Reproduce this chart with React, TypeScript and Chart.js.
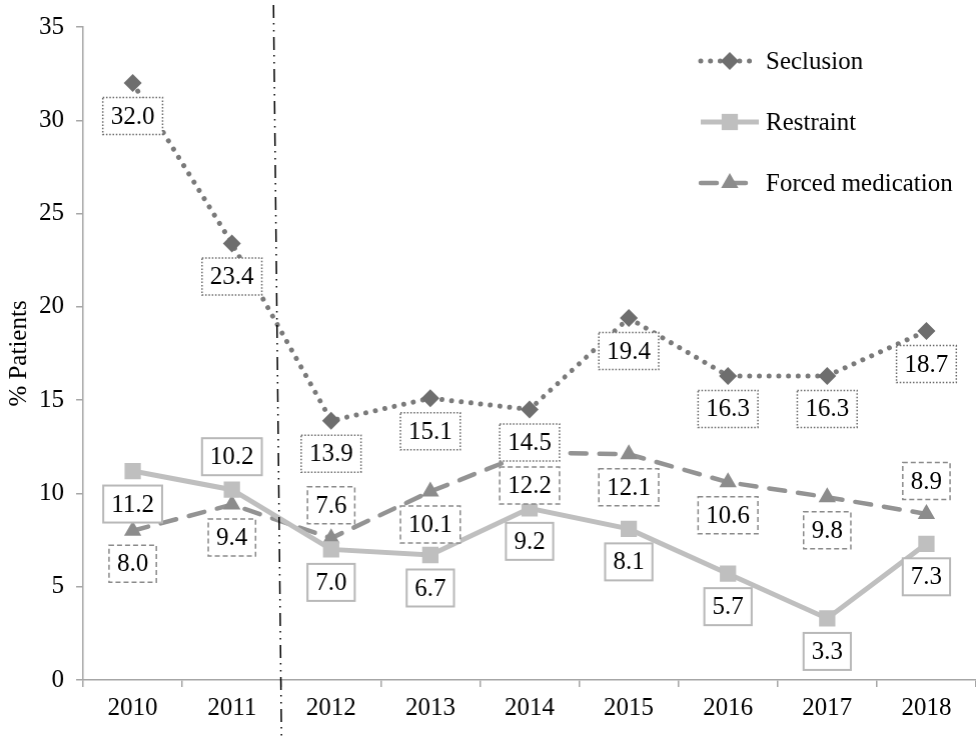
import { useEffect, useRef } from "react"
import { Chart, registerables, Plugin } from "chart.js"
import { drawPoint } from "chart.js/helpers"

Chart.register(...registerables)

const FONT = "'Liberation Serif', 'Times New Roman', serif"

// Data
const years = ["2010", "2011", "2012", "2013", "2014", "2015", "2016", "2017", "2018"]
const seclusion = [32.0, 23.4, 13.9, 15.1, 14.5, 19.4, 16.3, 16.3, 18.7]
const restraint = [11.2, 10.2, 7.0, 6.7, 9.2, 8.1, 5.7, 3.3, 7.3]
const forcedMedication = [8.0, 9.4, 7.6, 10.1, 12.2, 12.1, 10.6, 9.8, 8.9]

// which side of the point each value box sits on (1 = below, -1 = above)
const seclusionLabelSide = [1, 1, 1, 1, 1, 1, 1, 1, 1]
const restraintLabelSide = [1, -1, 1, 1, 1, 1, 1, 1, 1]
const forcedLabelSide = [1, 1, -1, 1, 1, 1, 1, 1, -1]

// the dash-dot divider sits between 2011 and 2012
const dividerAt = 1.5

type BoxStyle = { color: string; dash: number[]; width: number }

const boxStyles: BoxStyle[] = [
  { color: "#6a6a6a", dash: [1.5, 1.8], width: 1.5 },
  { color: "#b8b8b8", dash: [], width: 2 },
  { color: "#8a8a8a", dash: [5, 3], width: 1.5 },
]
const labelSides = [seclusionLabelSide, restraintLabelSide, forcedLabelSide]

const valueBoxes: Plugin<"line"> = {
  id: "valueBoxes",
  afterDatasetsDraw(chart) {
    const ctx = chart.ctx
    const x = chart.scales.x
    const area = chart.chartArea

    // divider line (slightly slanted, as in the original)
    const dx = x.getPixelForValue(dividerAt)
    ctx.save()
    ctx.strokeStyle = "#000"
    ctx.lineWidth = 1.5
    ctx.setLineDash([13, 5, 1.5, 5.5, 1.5, 5.5])
    ctx.beginPath()
    ctx.moveTo(dx - 8, 5)
    ctx.lineTo(dx, chart.height)
    ctx.stroke()
    ctx.restore()

    ctx.save()
    ctx.font = `25px ${FONT}`
    ctx.textAlign = "center"
    ctx.textBaseline = "middle"
    chart.data.datasets.forEach((ds, i) => {
      const meta = chart.getDatasetMeta(i)
      const st = boxStyles[i]
      meta.data.forEach((pt, j) => {
        const v = ds.data[j] as number
        const text = v.toFixed(1)
        const w = ctx.measureText(text).width + 16
        const h = 37
        const cx = pt.x
        const cy = pt.y + labelSides[i][j] * 33
        ctx.fillStyle = "#fff"
        ctx.fillRect(cx - w / 2, cy - h / 2, w, h)
        ctx.strokeStyle = st.color
        ctx.lineWidth = st.width
        ctx.setLineDash(st.dash)
        ctx.strokeRect(cx - w / 2, cy - h / 2, w, h)
        ctx.setLineDash([])
        ctx.fillStyle = "#000"
        ctx.fillText(text, cx, cy + 1)
      })
    })

    // legend, top right inside the plot
    const lx = area.right - 275
    chart.data.datasets.forEach((ds: any, i) => {
      const ly = area.top + 34 + i * 61
      ctx.save()
      ctx.strokeStyle = ds.borderColor
      ctx.lineWidth = ds.borderWidth
      ctx.lineCap = ds.borderCapStyle
      ctx.setLineDash(ds.borderDash || [])
      ctx.beginPath()
      ctx.moveTo(lx, ly)
      ctx.lineTo(lx + 58, ly)
      ctx.stroke()
      ctx.setLineDash([])
      ctx.fillStyle = ds.pointBackgroundColor
      drawPoint(ctx, { pointStyle: ds.pointStyle, radius: ds.pointRadius, rotation: 0, borderWidth: 0 }, lx + 29, ly)
      ctx.restore()
      ctx.fillStyle = "#000"
      ctx.textAlign = "left"
      ctx.fillText(ds.label, lx + 65, ly + 1)
    })
    ctx.restore()
  },
}

export default function App() {
  const chartRef = useRef<HTMLCanvasElement>(null)
  const boxRef = useRef<HTMLDivElement>(null)
  const chartInstance = useRef<Chart | null>(null)

  useEffect(() => {
    if (!chartRef.current || !boxRef.current) return
    if (chartInstance.current) chartInstance.current.destroy()
    const ctx = chartRef.current.getContext("2d")
    if (!ctx) return

    const tickFont = { family: FONT, size: 25 }

    const chart = new Chart(ctx, {
      type: "line",
      data: {
        labels: years,
        datasets: [
          {
            label: "Seclusion",
            data: seclusion,
            borderColor: "#7a7a7a",
            borderWidth: 5,
            borderDash: [0.01, 9.7],
            borderCapStyle: "round",
            pointStyle: "rectRot",
            pointRadius: 9,
            pointBackgroundColor: "#6e6e6e",
            pointBorderWidth: 0,
            tension: 0,
          },
          {
            label: "Restraint",
            data: restraint,
            borderColor: "#bfbfbf",
            borderWidth: 5,
            borderCapStyle: "butt",
            pointStyle: "rect",
            pointRadius: 11.5,
            pointBackgroundColor: "#bfbfbf",
            pointBorderWidth: 0,
            tension: 0,
          },
          {
            label: "Forced medication",
            data: forcedMedication,
            borderColor: "#939393",
            borderWidth: 4.5,
            borderDash: [16, 13],
            borderCapStyle: "round",
            pointStyle: "triangle",
            pointRadius: 10,
            pointBackgroundColor: "#8c8c8c",
            pointBorderWidth: 0,
            tension: 0,
          },
        ],
      },
      options: {
        animation: false,
        responsive: true,
        maintainAspectRatio: false,
        layout: { padding: { top: 26, right: 1, left: 0, bottom: 0 } },
        plugins: {
          legend: { display: false },
          tooltip: { enabled: false },
        },
        scales: {
          x: {
            offset: true,
            grid: { offset: true, drawOnChartArea: false, tickLength: 7, color: "#a6a6a6", lineWidth: 1.5 },
            border: { color: "#a6a6a6", width: 1.5 },
            ticks: { color: "#000", font: tickFont, padding: 6, maxRotation: 0 },
            afterFit: (s: any) => {
              s.height = 60
              s.paddingLeft = 0
              s.paddingRight = 0
            },
          },
          y: {
            min: 0,
            max: 35,
            grid: { drawOnChartArea: false, tickLength: 7, color: "#a6a6a6", lineWidth: 1.5 },
            border: { color: "#a6a6a6", width: 1.5 },
            ticks: { stepSize: 5, color: "#000", font: tickFont, padding: 12 },
            title: { display: true, text: "% Patients", color: "#000", font: tickFont, padding: { top: 4, bottom: 0 } },
            afterFit: (s) => {
              s.width = 83
            },
          },
        },
      },
      plugins: [valueBoxes],
    })

    // the plot should run to the right edge of the figure: widen the
    // (clipped) canvas by whatever Chart.js keeps back on the right
    let width = 976
    for (let k = 0; k < 3; k++) {
      const short = 975 - chart.chartArea.right
      if (Math.abs(short) < 0.5) break
      width += short
      boxRef.current.style.width = `${width}px`
      chart.resize(width, 740)
    }
    chartInstance.current = chart

    return () => {
      if (chartInstance.current) {
        chartInstance.current.destroy()
        chartInstance.current = null
      }
    }
  }, [])

  return (
    <div style={{ position: "fixed", left: 0, top: 0, width: 976, height: 740, overflow: "hidden", background: "#fff" }}>
      <div ref={boxRef} style={{ position: "absolute", left: 0, top: 0, width: 976, height: 740 }}>
        <canvas ref={chartRef} />
      </div>
    </div>
  )
}
